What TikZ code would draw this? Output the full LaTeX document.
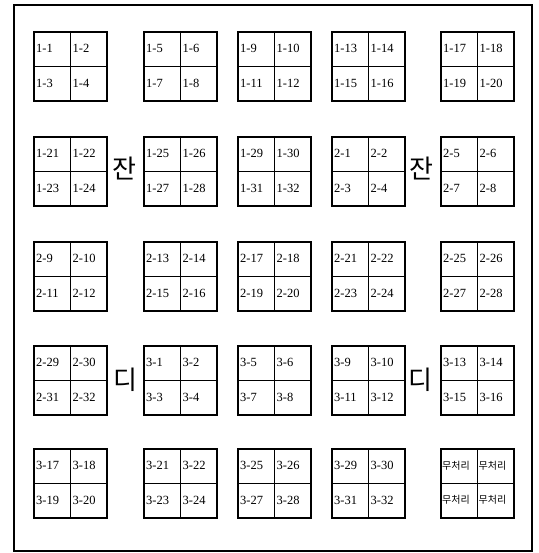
\documentclass[tikz,border=0pt]{standalone}
\usepackage{fontspec}
\setmainfont{Liberation Serif}
\newfontfamily\kr{Noto Sans CJK KR}
\begin{document}
\begin{tikzpicture}[x=1pt,y=-1pt,
  block/.style={draw, line width=1.8pt, minimum width=73pt, minimum height=69pt, inner sep=0pt, anchor=north west},
  divider/.style={line width=0.8pt},
  lbl/.style={anchor=west, inner sep=0pt, font=\fontsize{12.5}{12.5}\selectfont},
  klbl/.style={anchor=west, inner sep=0pt, font=\kr\fontsize{10}{10}\selectfont},
  bigkr/.style={inner sep=0pt, font=\kr\fontsize{26}{26}\selectfont},
  frame/.style={line width=1.3pt}]
\useasboundingbox (0,0) rectangle (538,553);
\fill[white] (0,0) rectangle (538,553);
\draw[frame] (14,5) rectangle (532,551);
\foreach \r/\y in {0/31,1/136,2/241,3/345,4/448}{
  \foreach \c/\x in {0/33,1/143,2/237,3/331,4/440}{
    \node[block] (b\r\c) at (\x,\y) {};
    \draw[divider] (b\r\c.north) -- (b\r\c.south);
    \draw[divider] (b\r\c.west) -- (b\r\c.east);
    \foreach \i in {0,...,3}{
      \pgfmathtruncatemacro\k{\r*20+\c*4+\i}
      \pgfmathtruncatemacro\g{div(\k,32)+1}
      \pgfmathtruncatemacro\n{mod(\k,32)+1}
      \pgfmathtruncatemacro\cc{mod(\i,2)}
      \pgfmathtruncatemacro\rr{div(\i,2)}
      \ifnum\k<96
        \node[lbl] (t\r\c\i) at ({\x+\cc*36.5+3},{\y+\rr*34.5+17.5}) {\g-\n};
      \else
        \node[klbl] (t\r\c\i) at ({\x+\cc*36.5+2},{\y+\rr*34.5+17.5}) {무처리};
      \fi
    }
  }
}
\node[bigkr] (jan1) at (124,169) {잔};
\node[bigkr] (jan2) at (421,169) {잔};
\node[bigkr] (di1) at (125,380) {디};
\node[bigkr] (di2) at (420,380) {디};
\end{tikzpicture}
\end{document}
